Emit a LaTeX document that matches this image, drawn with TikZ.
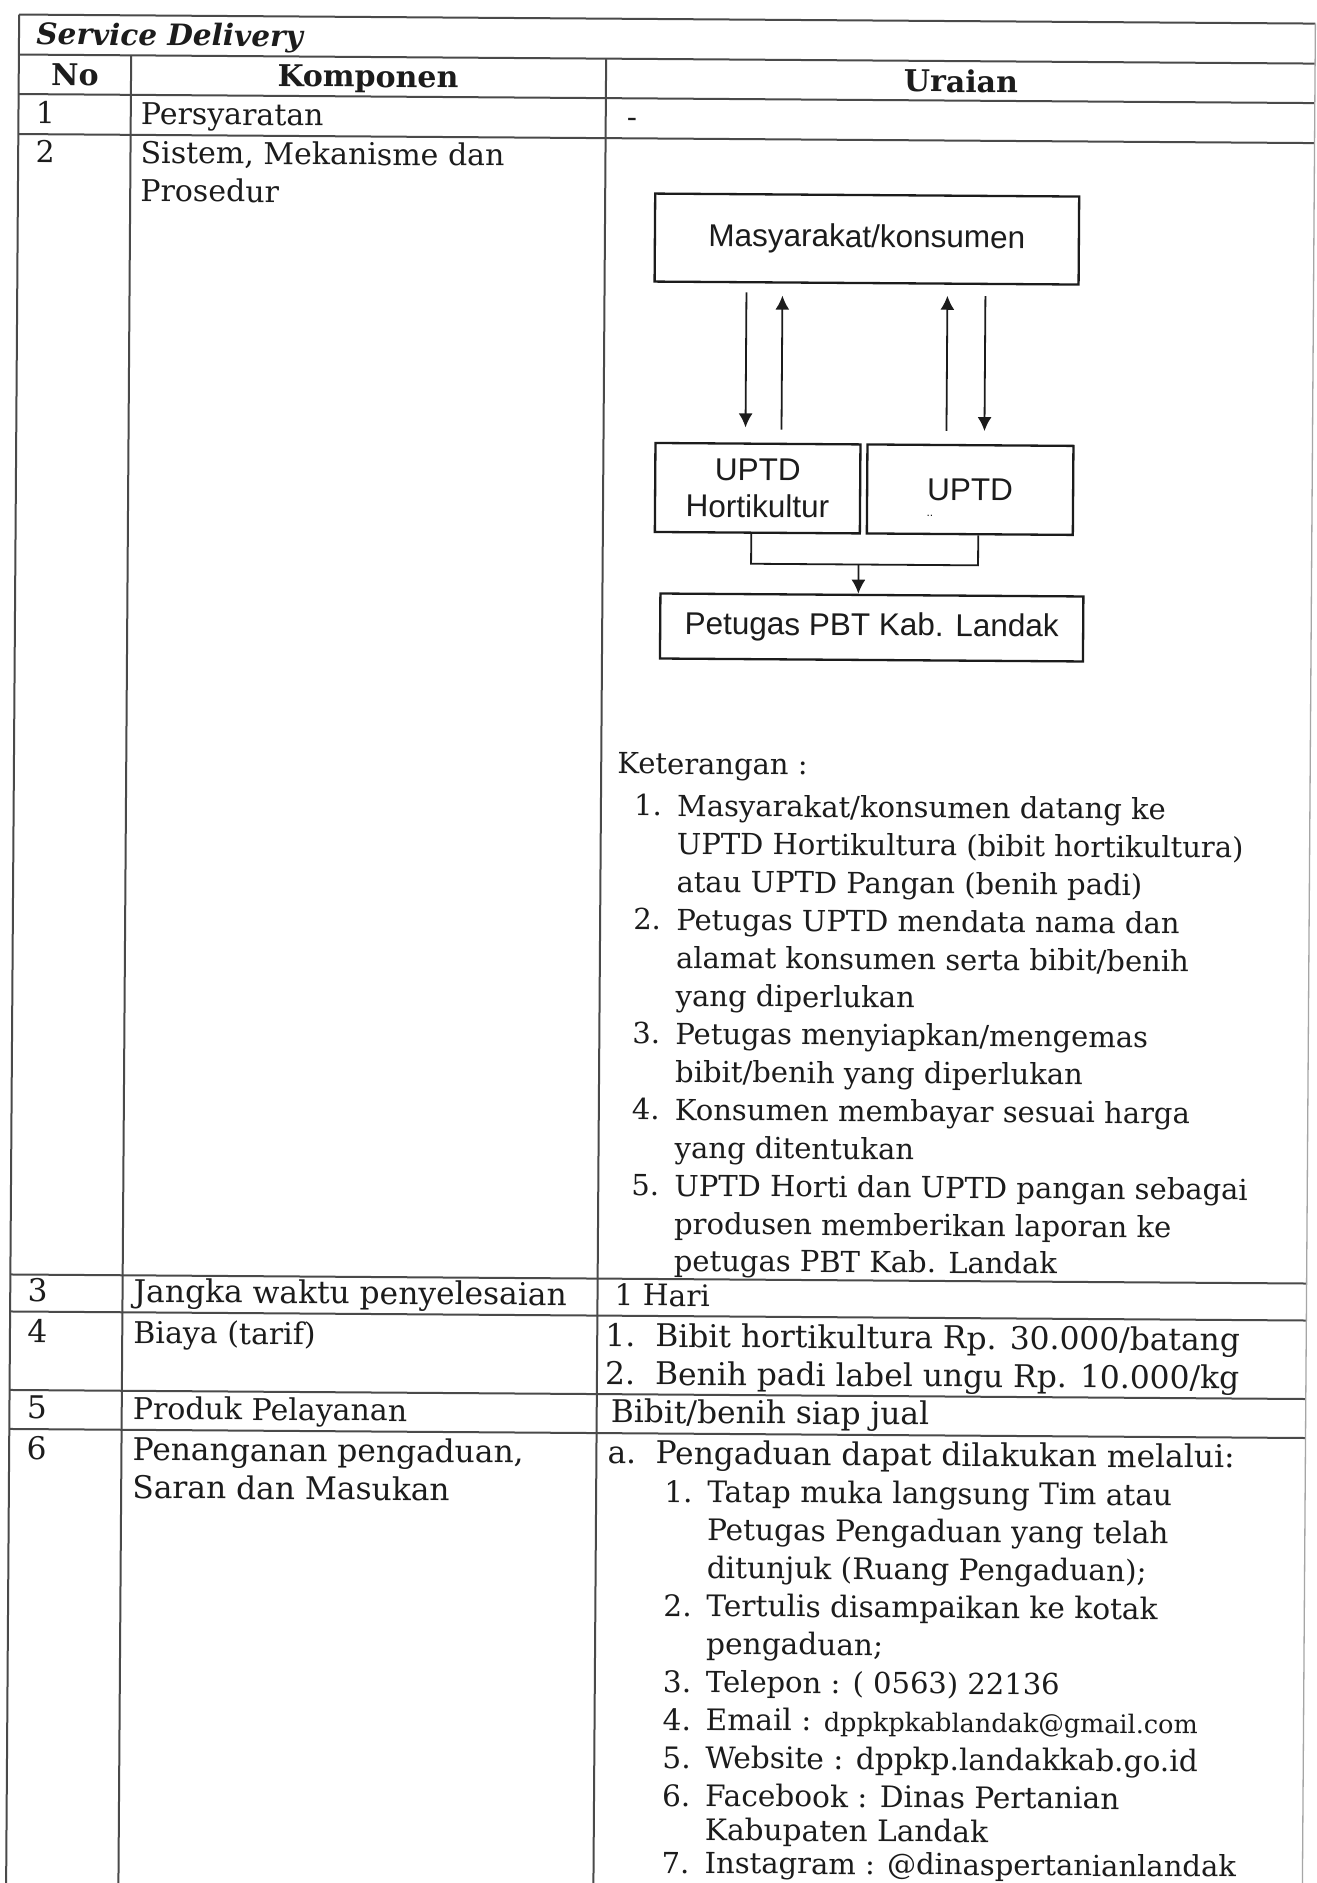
\documentclass[tikz,border=0pt]{standalone}
\usepackage{fontspec}
\usetikzlibrary{arrows.meta,calc}
\setmainfont{DejaVu Serif}
\newfontfamily\diagfont{Liberation Sans}
\newfontfamily\bookfont{DejaVu Serif}
\definecolor{ink}{HTML}{1C1C1C}
\definecolor{rule}{HTML}{4A4A4A}
\newcommand\putline[5][]{\node[txt,#1] (#2) at (#3,#4) {#5};}
\tikzset{
  txt/.style={anchor=base west, inner sep=0pt, text=ink,
    font=\bookfont\fontsize{30}{37.9}\selectfont},
  big/.style={font=\bookfont\fontsize{31.3}{37.9}\selectfont},
  small/.style={font=\bookfont\fontsize{29}{37.9}\selectfont},
  mid/.style={font=\bookfont\fontsize{29.6}{37.9}\selectfont},
  head/.style={txt, anchor=base, font=\bookfont\bfseries\fontsize{30}{37.9}\selectfont},
  grid/.style={draw=rule, line width=2pt},
  faint/.style={draw=black!35, line width=1.3pt},
  box/.style={draw=ink, line width=2.3pt, inner sep=0pt, align=center, text=ink,
    font=\diagfont\fontsize{31.5}{37}\selectfont},
  arr/.style={draw=ink, line width=1.8pt, -{Latex[length=14pt,width=14pt]}},
  conn/.style={draw=ink, line width=1.8pt},
}
\begin{document}
\begin{tikzpicture}[x=1pt,y=-1pt]
\useasboundingbox (0,0) rectangle (1317,1883);
\clip (0,0) rectangle (1317,1883);
\fill[white] (0,0) rectangle (1317,1883);
\begin{scope}[rotate around={-0.4:(660,940)}, transform shape]

% ---- table rules ----
\foreach \v in {19,59,98.5,138.5,1279,1316,1394.5,1433.5}
  \draw[grid] (12.7,\v) -- (1309,\v);
\draw[grid] (12.7,19) -- (12.7,1910);
\draw[grid] (125,59) -- (125,1910);
\draw[grid] (600,59) -- (600,1910);
\draw[faint] (1309,19) -- (1309,1910);

% ---- title and header ----
\node[txt, font=\bookfont\bfseries\itshape\fontsize{29.5}{37.9}\selectfont] (title) at (30,49) {Service Delivery};
\node[head] (hno) at (69,90) {No};
\node[head] (hkomp) at (362,89) {Komponen};
\node[head] (hur) at (955,90) {Uraian};

% ---- row 1 ----
\putline{n1}{30}{128}{1}
\putline{k1}{135}{128}{Persyaratan}
\putline{u1}{621}{128}{-}

% ---- row 2 ----
\putline{n2}{30}{167}{2}
\putline{k2a}{135}{167}{Sistem, Mekanisme dan}
\putline{k2b}{135}{205}{Prosedur}

% flow chart
\node[box, minimum width=424pt, minimum height=88pt] (mas) at (862,237.6) {Masyarakat/konsumen};
\node[box, minimum width=205pt, minimum height=89pt] (hor) at (754.5,487.5) {UPTD\\Hortikultur};
\node[box, minimum width=206pt, minimum height=89pt] (upt) at (967,487.5) {\raisebox{-6pt}{UPTD}};
\node[inner sep=0pt, text=ink, font=\diagfont\fontsize{12}{12}\selectfont] (mark) at (927,514) {..};
\node[box, minimum width=423pt, minimum height=65pt] (pbt) at (869.5,626) {Petugas PBT Kab. Landak};

\coordinate (xa) at (742,0);
\coordinate (xb) at (778,0);
\coordinate (xc) at (943,0);
\coordinate (xd) at (981,0);
\coordinate (xh) at (748.5,0);
\coordinate (xu) at (975.5,0);
\coordinate (xm) at (856,0);

\draw[arr] ($(mas.south -| xa)+(0,9)$) -- ($(hor.north -| xa)+(0,-15)$);
\draw[arr] ($(hor.north -| xb)+(0,-13)$) -- ($(mas.south -| xb)+(0,12)$);
\draw[arr] ($(upt.north -| xc)+(0,-13)$) -- ($(mas.south -| xc)+(0,11)$);
\draw[arr] ($(mas.south -| xd)+(0,11)$) -- ($(upt.north -| xd)+(0,-13)$);
\draw[conn] (hor.south -| xh) -- ++(0,30) coordinate (jl) -| (upt.south -| xu);
\draw[arr] (jl -| xm) -- (pbt.north -| xm);

% notes
\putline[small]{ket}{616}{774}{Keterangan :}
\putline[small]{p1}{633}{816}{1.}
\putline[small]{p1a}{676}{816}{Masyarakat/konsumen datang ke}
\putline[small]{p1b}{676}{854}{UPTD Hortikultura (bibit hortikultura)}
\putline[small]{p1c}{676}{892}{atau UPTD Pangan (benih padi)}
\putline[small]{p2}{633}{930}{2.}
\putline[small]{p2a}{676}{930}{Petugas UPTD mendata nama dan}
\putline[small]{p2b}{676}{968}{alamat konsumen serta bibit/benih}
\putline[small]{p2c}{676}{1006}{yang diperlukan}
\putline[small]{p3}{633}{1044}{3.}
\putline[small]{p3a}{676}{1044}{Petugas menyiapkan/mengemas}
\putline[small]{p3b}{676}{1082}{bibit/benih yang diperlukan}
\putline[small]{p4}{633}{1120}{4.}
\putline[small]{p4a}{676}{1120}{Konsumen membayar sesuai harga}
\putline[small]{p4b}{676}{1158}{yang ditentukan}
\putline[small]{p5}{633}{1196}{5.}
\putline[small]{p5a}{676}{1196}{UPTD Horti dan UPTD pangan sebagai}
\putline[small]{p5b}{676}{1234}{produsen memberikan laporan ke}
\putline[small]{p5c}{676}{1271}{petugas PBT Kab. Landak}

% ---- row 3 ----
\putline[big]{n3}{30}{1306}{3}
\putline[big]{k3}{136}{1306}{Jangka waktu penyelesaian}
\putline[mid]{u3}{617}{1306}{1 Hari}

% ---- row 4 ----
\putline[big]{n4}{30}{1347}{4}
\putline{k4}{136}{1347}{Biaya (tarif)}
\putline[big]{b1}{608}{1347}{1.}
\putline[big]{b1a}{658}{1347}{Bibit hortikultura Rp. 30.000/batang}
\putline[big]{b2}{608}{1385}{2.}
\putline[big]{b2a}{658}{1385}{Benih padi label ungu Rp. 10.000/kg}

% ---- row 5 ----
\putline[big]{n5}{30}{1423}{5}
\putline{k5}{136}{1423}{Produk Pelayanan}
\putline[big]{u5}{614}{1423}{Bibit/benih siap jual}

% ---- row 6 ----
\putline[big]{n6}{30}{1464}{6}
\putline[big]{k6a}{136}{1464}{Penanganan pengaduan,}
\putline[big]{k6b}{136}{1502}{Saran dan Masukan}
\putline[big]{qa}{611}{1464}{a.}
\putline[big]{qaa}{659}{1464}{Pengaduan dapat dilakukan melalui:}
\putline[mid]{q1}{668}{1502}{1.}
\putline[mid]{q1a}{711}{1502}{Tatap muka langsung Tim atau}
\putline[mid]{q1b}{711}{1540}{Petugas Pengaduan yang telah}
\putline[mid]{q1c}{711}{1578}{ditunjuk (Ruang Pengaduan);}
\putline[mid]{q2}{668}{1616}{2.}
\putline[mid]{q2a}{711}{1616}{Tertulis disampaikan ke kotak}
\putline[mid]{q2b}{711}{1654}{pengaduan;}
\putline[mid]{q3}{668}{1692}{3.}
\putline[small]{q3a}{711}{1692}{Telepon : ( 0563) 22136}
\putline[mid]{q4}{668}{1730}{4.}
\putline[mid]{q4a}{711}{1730}{Email : {\fontsize{25.5}{37.9}\selectfont dppkpkablandak@gmail.com}}
\putline[mid]{q5}{668}{1768}{5.}
\putline[mid]{q5a}{711}{1768}{Website : dppkp.landakkab.go.id}
\putline[mid]{q6}{668}{1806}{6.}
\putline[mid]{q6a}{711}{1806}{Facebook : Dinas Pertanian}
\putline[mid]{q6b}{711}{1840}{Kabupaten Landak}
\putline[small]{q7}{668}{1873}{7.}
\putline[small]{q7a}{711}{1873}{Instagram : @dinaspertanianlandak}

\end{scope}
\end{tikzpicture}
\end{document}
